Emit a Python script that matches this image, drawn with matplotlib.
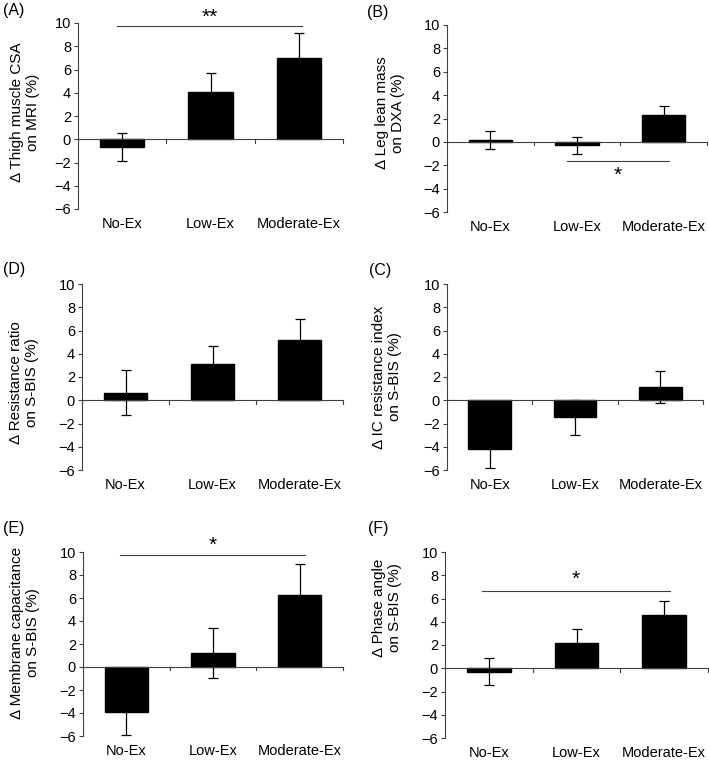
import numpy as np
import matplotlib
matplotlib.use("Agg")
import matplotlib.pyplot as plt

# ---------------- DATA ----------------
groups = ["No-Ex", "Low-Ex", "Moderate-Ex"]

panel_tags = ["(A)", "(B)", "(D)", "(C)", "(E)", "(F)"]
ylabels = [
    "\u0394 Thigh muscle CSA\non MRI (%)",
    "\u0394 Leg lean mass\non DXA (%)",
    "\u0394 Resistance ratio\non S-BIS (%)",
    "\u0394 IC resistance index\non S-BIS (%)",
    "\u0394 Membrane capacitance\non S-BIS (%)",
    "\u0394 Phase angle\non S-BIS (%)",
]
means = [
    [-0.7, 4.1, 7.0],
    [0.17, -0.3, 2.3],
    [0.65, 3.1, 5.2],
    [-4.2, -1.45, 1.15],
    [-3.9, 1.2, 6.25],
    [-0.28, 2.2, 4.55],
]
errs = [
    [1.2, 1.6, 2.1],
    [0.75, 0.7, 0.75],
    [1.95, 1.6, 1.75],
    [1.6, 1.5, 1.4],
    [2.0, 2.15, 2.75],
    [1.12, 1.2, 1.25],
]
# significance: (line start x, line end x, line y, star text, star y)
sig = [
    (-0.06, 2.04, 9.75, "**", 10.5),
    (0.88, 2.06, -1.6, "*", -2.85),
    None,
    None,
    (-0.07, 2.06, 9.7, "*", 10.6),
    (-0.08, 2.07, 6.65, "*", 7.65),
]
# --------------------------------------

plt.rcParams["font.family"] = ["Liberation Sans", "DejaVu Sans"]

W, H = 709, 761
fig = plt.figure(figsize=(W / 100, H / 100), dpi=100)

# axes boxes in pixels: left, right, top, bottom
boxes = [
    (78, 343, 23, 209),
    (447, 707, 25, 212),
    (82, 343, 284, 470),
    (447, 703, 284, 470),
    (83, 343, 552, 736),
    (445, 708, 552, 738),
]
tag_pos = [(3, 10), (367, 12), (3, 270), (369, 271), (3, 528), (368, 529)]
ylab_xy = [(-0.143, 0.52), (-0.162, 0.53), (-0.165, 0.47),
           (-0.176, 0.5), (-0.165, 0.56), (-0.163, 0.70)]

line_col = "#404040"

for i in range(6):
    l, r, t, b = boxes[i]
    ax = fig.add_axes([l / W, (H - b) / H, (r - l) / W, (b - t) / H])
    x = np.arange(len(groups))
    ax.bar(x, means[i], width=0.5, color="black", edgecolor="black", zorder=2)
    ax.errorbar(x, means[i], yerr=errs[i], fmt="none", ecolor="black",
                elinewidth=0.9, capsize=3.5, capthick=0.9, zorder=3)
    ax.set_xlim(-0.5, 2.5)
    ax.set_ylim(-6, 10)
    ax.set_yticks(np.arange(-6, 11, 2))
    ax.set_xticks(x)
    ax.set_xticklabels(groups, fontsize=10.5)
    ax.tick_params(axis="x", length=0, pad=6)
    ax.tick_params(axis="y", labelsize=10.5, length=3, width=0.8,
                   color=line_col, pad=2)
    for s in ["top", "right", "bottom"]:
        ax.spines[s].set_visible(False)
    ax.spines["left"].set_color(line_col)
    ax.spines["left"].set_linewidth(0.8)

    # category axis through zero with boundary ticks
    ax.axhline(0, color=line_col, lw=0.8, zorder=4)
    for xb in [0.5, 1.5, 2.5]:
        ax.plot([xb, xb], [0, -0.28], color=line_col, lw=0.8, zorder=4,
                clip_on=False)

    ax.set_ylabel(ylabels[i], fontsize=11, linespacing=1.15)
    ax.yaxis.set_label_coords(*ylab_xy[i])

    if sig[i] is not None:
        x0, x1, ly, txt, ty = sig[i]
        ax.plot([x0, x1], [ly, ly], color=line_col, lw=0.8, clip_on=False)
        ax.text((x0 + x1) / 2, ty, txt, ha="center", va="center",
                fontsize=15, clip_on=False)

    fig.text(tag_pos[i][0] / W, 1 - tag_pos[i][1] / H, panel_tags[i],
             fontsize=11.5, ha="left", va="center")

fig.savefig("out.png", dpi=100)
